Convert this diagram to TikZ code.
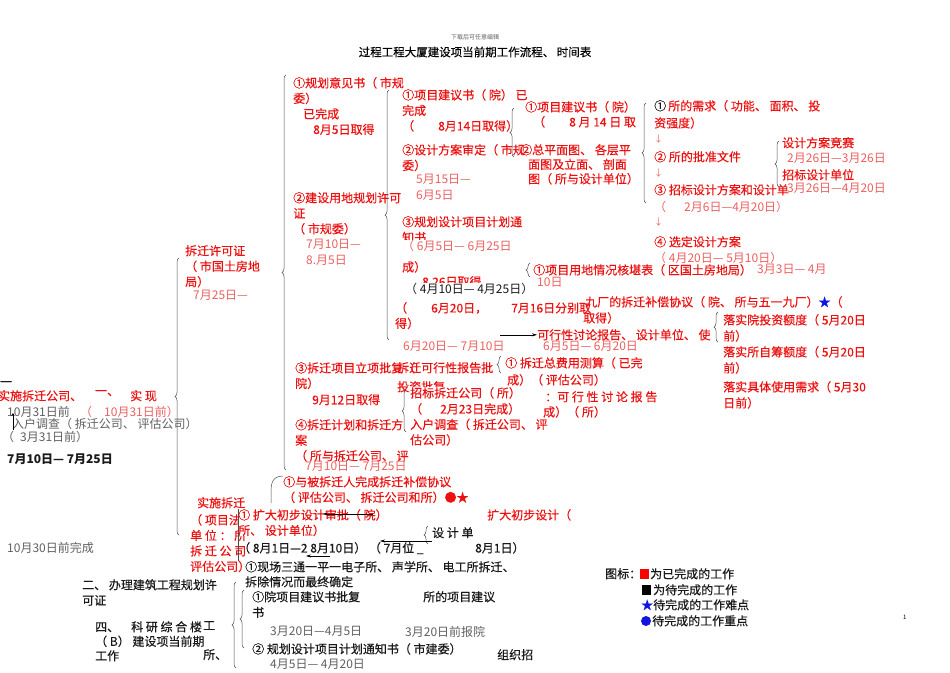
\documentclass[tikz,border=0pt]{standalone}
\usepackage{fontspec}
\newfontfamily\cjk{Noto Sans CJK SC}
\newfontfamily\cjkb[FakeBold=0.35]{Noto Sans CJK SC}
\usetikzlibrary{decorations.pathreplacing,arrows.meta}

\definecolor{wred}{RGB}{236,16,16}
\definecolor{dred}{RGB}{236,96,96}
\definecolor{lgray}{RGB}{95,95,95}
\definecolor{sblue}{RGB}{20,20,225}

\tikzset{
  txt/.style={anchor=north west, yshift=6pt, inner sep=0pt, align=left,
    font=\cjk\fontsize{12}{15.5}\selectfont},
  redtx/.style={txt, text=wred, font=\cjkb\fontsize{12}{15.5}\selectfont},
  datetx/.style={txt, text=dred},
  blktx/.style={txt, text=black!90, font=\cjkb\fontsize{12}{15.5}\selectfont},
  graytx/.style={txt, text=lgray},
  cover/.style={fill=white},
  ttl/.style={inner sep=0pt, font=\cjkb\fontsize{11.5}{13}\selectfont},
  brc/.style={decorate, decoration={brace, amplitude=4pt}, draw=black!70, line width=0.5pt},
  arr/.style={-{Stealth[length=5pt,width=3pt]}, line width=0.5pt, black}
}

\begin{document}
\begin{tikzpicture}[x=1pt,y=-1pt]
\useasboundingbox (0,0) rectangle (950,672);

% title
\node[ttl, font=\cjk\fontsize{6}{7}\selectfont, text=lgray] (hint) at (475,37) {下载后可任意编辑};
\node[ttl] (title) at (475,52) {过程工程大厦建设项当前期工作流程、 时间表};

% column 1
\node[redtx] (ghyj) at (293,83) {①规划意见书（ 市规\\委）\\\hspace*{10pt}已完成\\\hspace*{20pt}8月5日取得};
\node[redtx] (ydxk) at (293,198) {②建设用地规划许可\\证\\（ 市规委）};
\node[datetx] (ydxkd) at (306,245) {7月10日—\\8.月5日};
\node[redtx] (cqlx) at (295,368) {③拆迁项目立项批复（\\院）};
\node[redtx] (cqlxd) at (312,400) {9月12日取得};
\node[redtx] (cqjh) at (295,425) {④拆迁计划和拆迁方\\案\\（ 所与拆迁公司、 评};
\node[datetx] (cqjhd) at (305,467) {7月10日— 7月25日};
\draw[brc] (286,470) -- (286,75);

% column 2
\node[redtx] (xmjy) at (402,95) {①项目建议书（ 院） 已\\完成\\（\hspace{2em}8月14日取得）};
\node[redtx] (fasd) at (402,150) {②设计方案审定（ 市规\\委）};
\node[datetx] (fasdd) at (416,180) {5月15日—\\6月5日};
\node[redtx] (jhtz) at (402,222) {③规划设计项目计划通\\知书};
\node[datetx, cover] (jhtzd) at (402,246) {（ 6月5日— 6月25日};
\node[redtx] (jhtzc) at (402,267) {成）};
\node[redtx] (jhtzq) at (422,282) {8.26日取得};
\node[blktx, cover, font=\cjk\fontsize{12}{15.5}\selectfont] (ydrq) at (405,289) {（ 4月10日— 4月25日）};
\node[redtx] (fbqd) at (395,308) {（\hspace{2em}6月20日，\hspace{2em}7月16日分别取\\得）};
\node[datetx] (fbqdd) at (403,347) {6月20日— 7月10日};
\draw[brc] (389,340) -- (389,90);

% column 3
\node[redtx] (xmjyb) at (525,107) {①项目建议书（ 院）};
\node[redtx] (xmjybd) at (533,122) {（\hspace{2em}8 月 14 日 取};
\node[redtx, font=\cjkb\fontsize{12}{14.5}\selectfont] (zpm) at (520,150) {②总平面图、 各层平\\\hspace*{8pt}面图及立面、 剖面\\\hspace*{8pt}图（ 所与设计单位）};
\draw[brc] (514,157) -- (514,108);

% column 4
\node[blktx] (xqa) at (654,106) {①};
\node[redtx] (xq) at (668,106) {所的需求（ 功能、 面积、 投};
\node[redtx] (xqb) at (654,123) {资强度）};
\node[datetx, font=\cjk\fontsize{9}{10}\selectfont] (dna) at (654,141) {↓};
\node[redtx] (pzwj) at (654,157) {② 所的批准文件};
\node[datetx, font=\cjk\fontsize{9}{10}\selectfont] (dnb) at (654,175) {↓};
\node[redtx] (zbsj) at (654,190) {③ 招标设计方案和设计单};
\node[datetx] (zbsjd) at (654,207) {（\hspace{1.5em}2月6日—4月20日）};
\node[datetx, font=\cjk\fontsize{9}{10}\selectfont] (dnc) at (654,224) {↓};
\node[redtx] (xdfa) at (654,242) {④ 选定设计方案};
\node[datetx] (xdfad) at (654,258) {（ 4月20日— 5月10日）};
\draw[brc] (646,203) -- (646,103);

% column 5
\node[redtx] (fajs) at (782,143) {设计方案竞赛};
\node[datetx] (fajsd) at (787,159) {2月26日—3月26日};
\node[redtx] (zbdw) at (782,175) {招标设计单位};
\node[datetx] (zbdwd) at (787,189) {3月26日—4月20日};
\draw[brc] (779,187) -- (779,141);

% middle row
\node[redtx, cover] (ydhk) at (533,270) {①项目用地情况核堪表（ 区国土房地局）};
\node[datetx] (ydhkd) at (757,270) {3月3日— 4月};
\node[datetx] (ydhke) at (537,283) {10日};
\draw[brc] (530,277) -- (530,263);
\node[redtx] (bcxy) at (585,302) {九厂的拆迁补偿协议（ 院、 所与五一九厂）\textcolor{sblue}{★}（};
\node[redtx] (bcxyb) at (583,318) {取得）};
\node[redtx] (kxx) at (537,335) {可行性讨论报告、 设计单位、 使};
\draw[arr] ([xshift=-37pt]kxx.west) -- (kxx.west);
\node[datetx] (kxxd) at (543,347) {6月5日— 6月20日};
\node[redtx, font=\cjkb\fontsize{12}{16}\selectfont] (lstz) at (723,320) {落实院投资额度（ 5月20日\\前）};
\node[redtx, font=\cjkb\fontsize{12}{16}\selectfont] (lszc) at (723,352) {落实所自筹额度（ 5月20日\\前）};
\node[redtx, font=\cjkb\fontsize{12}{16}\selectfont] (lsxq) at (723,387) {落实具体使用需求（ 5月30\\日前）};
\draw[brc] (718,342) -- (718,312);

% demolition
\node[redtx] (kxbg) at (397,368) {拆迁可行性报告批};
\node[redtx] (tzpf) at (397,387) {投资批复};
\node[redtx, cover] (zbcq) at (410,393) {招标拆迁公司（ 所）};
\node[redtx] (zbcqb) at (410,409) {（\hspace{1.5em}2月23日完成）\\入户调查（ 拆迁公司、 评\\估公司）};
\draw[brc] (406,432) -- (406,390);
\node[redtx] (fyce) at (505,363) {① 拆迁总费用测算（ 已完};
\node[redtx] (fyceb) at (507,380) {成）（ 评估公司）};
\node[redtx] (kxtl) at (545,397) {：可 行 性 讨 论 报 告};
\node[redtx] (kxtlb) at (543,412) {成）（ 所）};
\draw[brc] (501,373) -- (501,356);

% left
\node[redtx] (cqxk) at (185,251) {拆迁许可证\\（ 市国土房地\\局）};
\node[datetx] (cqxkd) at (193,296) {7月25日—};
\draw[brc] (179,535) -- (179,258);
\node[blktx] (yia) at (0,387) {一};
\node[redtx] (sscq) at (-2,396) {实施拆迁公司、};
\node[redtx] (yib) at (95,396) {一、};
\node[redtx] (sx) at (130,396) {实 现};
\node[graytx] (qa) at (7,412) {10月31日前};
\node[datetx] (qb) at (80,412) {（\hspace{1em}10月31日前）};
\node[graytx] (rhdc) at (12,424) {入户调查（ 拆迁公司、 评估公司）};
\node[graytx] (qc) at (2,437) {（\hspace{0.5em}3月31日前）};
\draw[-{Stealth[length=3pt,width=3pt]}, line width=0.4pt] (qc.north west) ++(11,-1) -- ++(0,-17);
\node[blktx, font=\cjk\bfseries\fontsize{12}{15.5}\selectfont] (sjd) at (7,460) {7月10日— 7月25日};
\node[graytx] (qd) at (7,548) {10月30日前完成};

% lower middle
\node[redtx] (wcxy) at (283,482) {①与被拆迁人完成拆迁补偿协议\\（ 评估公司、 拆迁公司和所）●★};
\draw[line width=0.5pt, black!70] (wcxy.north west) .. controls (272,476) and (271,484) .. (271,492) -- (271,503);
\node[redtx] (sscqb) at (197,503) {实施拆迁};
\node[redtx] (ssdw) at (190,520) {（ 项目法\\单 位 ： 所\\拆 迁 公 司\\评估公司）};
\node[redtx, cover] (kcsp) at (238,515) {① 扩大初步设计审批（ 院）\\所、 设计单位）};
\draw[line width=0.5pt, black!70] (kcsp.north west) -- ++(0,52);
\node[redtx] (kccb) at (487,515) {扩大初步设计（};
\draw[arr] ([xshift=135pt,yshift=-5pt]kcsp.north west) -- ++(-50,0);
\node[blktx] (sjdw) at (432,533) {设 计 单};
\draw[brc] (428,544) -- (428,526);
\node[blktx] (kcsj) at (238,548) {（ 8月1日—2 8月10日） （ 7月};
\node[blktx] (wei) at (402,548) {位 \_};
\node[blktx] (kcsjb) at (475,548) {8月1日）};
\draw[arr] ([xshift=92pt,yshift=-14pt]kcsj.north west) -- ++(-24,0);
\node[blktx] (xcst) at (245,567) {①现场三通一平一电子所、 声学所、 电工所拆迁、};
\node[blktx] (ccqk) at (245,582) {拆除情况而最终确定};
\draw[arr] ([yshift=-14pt]sjdw.north west) -- ++(-52,0);

% lower left
\node[blktx] (ghxk) at (82,585) {二、 办理建筑工程规划许\\可证};
\node[blktx, font=\cjkb\fontsize{12}{14.5}\selectfont] (kyzh) at (95,627) {四、\hspace{1em}科 研 综 合 楼\\（ B） 建设项当前期\\工作};
\node[blktx] (gong) at (203,627) {工};
\node[blktx] (suo) at (203,655) {所、};
\draw[brc] (236,668) -- (236,582);
\draw[brc] (244,648) -- (244,590);
\node[blktx, cover] (yjpf) at (252,597) {①院项目建议书批复\\书};
\node[graytx] (yjpfd) at (270,632) {3月20日—4月5日};
\node[blktx] (sxjy) at (423,597) {所的项目建议};
\node[graytx] (sxjyd) at (405,632) {3月20日前报院};
\node[blktx] (jhtzb) at (252,649) {② 规划设计项目计划通知书（ 市建委）};
\node[graytx] (jhtzbd) at (270,665) {4月5日— 4月20日};
\node[blktx] (zzz) at (497,655) {组织招};

% legend
\node[blktx] (tb) at (605,574) {图标：};
\fill[red] (640,569) rectangle (649,579);
\node[blktx] (tba) at (650,574) {为已完成的工作};
\fill[black] (642,585) rectangle (651,595);
\node[blktx] (tbb) at (653,590) {为待完成的工作};
\node[blktx] (tbc) at (641,605) {\textcolor{sblue}{★}待完成的工作难点};
\fill[sblue] (646,621) circle (5);
\node[blktx] (tbd) at (652,621) {待完成的工作重点};
\node[txt, font=\cjk\fontsize{6}{7}\selectfont] (pg) at (903,621) {1};

\end{tikzpicture}
\end{document}
